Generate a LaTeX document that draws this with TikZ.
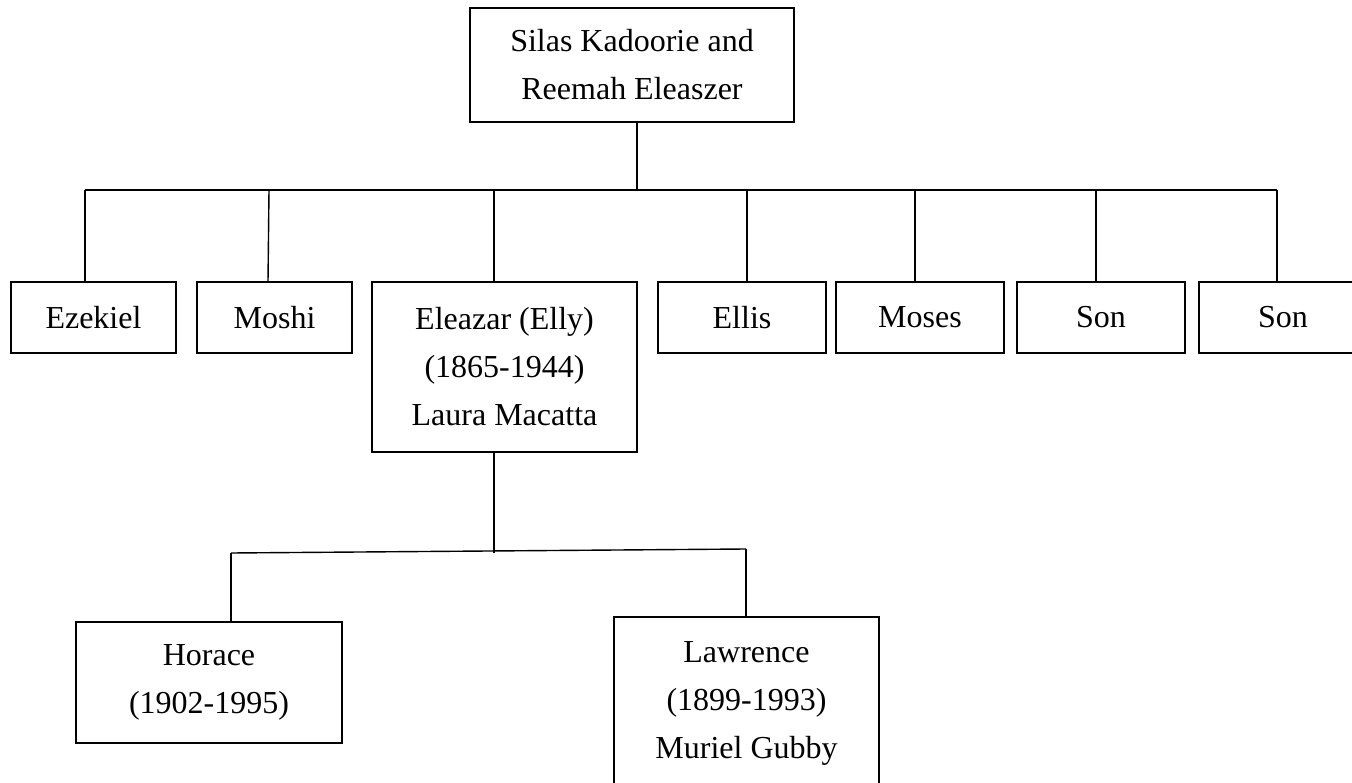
\documentclass[tikz,border=0pt]{standalone}
\usepackage{fontspec}
\setmainfont{Liberation Serif}
\begin{document}
\begin{tikzpicture}[x=1pt,y=-1pt,
  box/.style={draw, line width=1.4pt, inner sep=0pt, align=center,
    font=\fontsize{32}{48}\selectfont},
  link/.style={line width=1.4pt}]
\useasboundingbox (0,0) rectangle (1352,783);
% nodes
\node[box, minimum width=324pt, minimum height=114pt] (top) at (632,65) {Silas Kadoorie and\\Reemah Eleaszer};
\node[box, minimum width=165pt, minimum height=71pt] (ezekiel) at (93.5,317.5) {Ezekiel};
\node[box, minimum width=155pt, minimum height=71pt] (moshi) at (274.5,317.5) {Moshi};
\node[box, minimum width=265pt, minimum height=170pt] (eleazar) at (504.5,367) {Eleazar (Elly)\\(1865-1944)\\Laura Macatta};
\node[box, minimum width=168pt, minimum height=71pt] (ellis) at (742,317.5) {Ellis};
\node[box, minimum width=168pt, minimum height=71pt] (moses) at (920,317.5) {Moses};
\node[box, minimum width=168pt, minimum height=71pt] (son1) at (1101,317.5) {Son};
\node[box, minimum width=168pt, minimum height=71pt] (son2) at (1283,317.5) {Son};
\node[box, minimum width=266pt, minimum height=121pt] (horace) at (209,682.5) {Horace\\(1902-1995)};
\node[box, minimum width=265pt, minimum height=173pt] (lawrence) at (746.5,703.5) {Lawrence\\(1899-1993)\\Muriel Gubby};
% bus coordinates
\coordinate (b0) at (637,190);
\coordinate (bE) at (85,190);
\coordinate (bM) at (269,190);
\coordinate (bL) at (494,190);
\coordinate (bI) at (747,190);
\coordinate (bS) at (915,190);
\coordinate (bA) at (1096,190);
\coordinate (bB) at (1277,190);
\coordinate (c0) at (494,553);
\coordinate (cH) at (231,553);
\coordinate (cL) at (746,549);
\coordinate (mB) at (268,282);
% connectors
\draw[link] (top.south -| b0) -- (b0);
\draw[link] (bE) -- (bB);
\draw[link] (bE) -- (ezekiel.north -| bE);
\draw[link] (bM) -- (mB);
\draw[link] (bL) -- (eleazar.north -| bL);
\draw[link] (bI) -- (ellis.north -| bI);
\draw[link] (bS) -- (moses.north -| bS);
\draw[link] (bA) -- (son1.north -| bA);
\draw[link] (bB) -- (son2.north -| bB);
\draw[link] (eleazar.south -| c0) -- (c0);
\draw[link] (cH) -- (cL);
\draw[link] (cH) -- (horace.north -| cH);
\draw[link] (cL) -- (lawrence.north -| cL);
\end{tikzpicture}
\end{document}
